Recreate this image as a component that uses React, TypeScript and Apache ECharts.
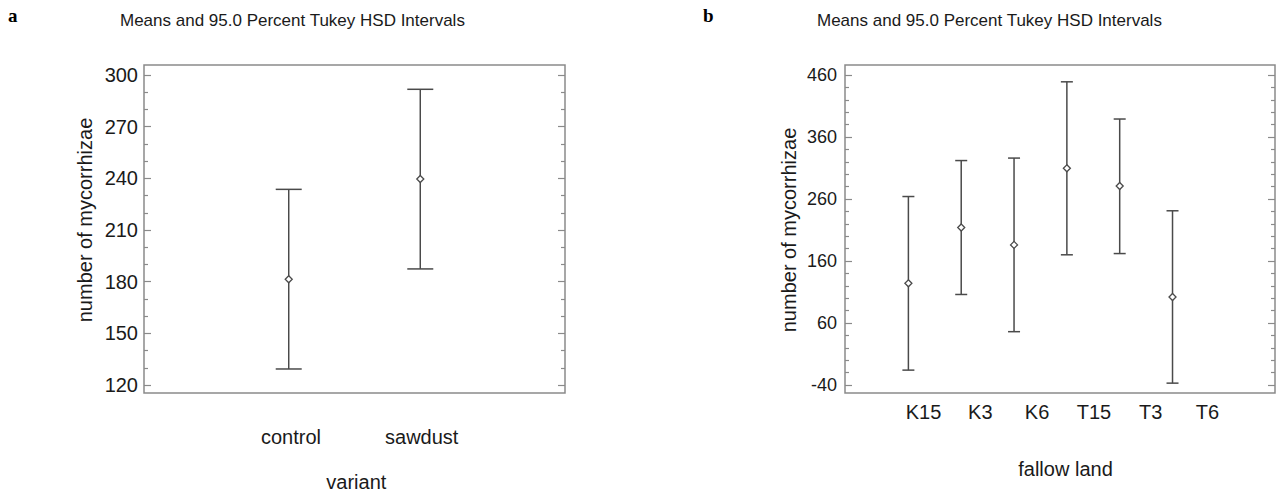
import React, { useEffect, useRef } from 'react';
import * as echarts from 'echarts';

// ---- data ----
const TITLE_TEXT = 'Means and 95.0 Percent Tukey HSD Intervals';
const Y_NAME = 'number of mycorrhizae';

const LEFT_X_NAME = 'variant';
const LEFT_CATS = ['control', 'sawdust'];
const LEFT_MEANS = [181.4, 239.6];
const LEFT_LOWER = [129.3, 187.4];
const LEFT_UPPER = [233.6, 291.7];
const LEFT_Y_TICKS = [120, 150, 180, 210, 240, 270, 300];

const RIGHT_X_NAME = 'fallow land';
const RIGHT_CATS = ['K15', 'K3', 'K6', 'T15', 'T3', 'T6'];
const RIGHT_MEANS = [124, 214, 186, 309.5, 281, 102];
const RIGHT_LOWER = [-16, 106, 46, 170, 172, -37];
const RIGHT_UPPER = [264, 322, 326, 449, 389, 241];
const RIGHT_Y_TICKS = [-40, 60, 160, 260, 360, 460];

// ---- style / layout ----
const W = 1281;
const H = 502;
const FONT = "'Liberation Sans', Arial, sans-serif";
const SERIF = "'Liberation Serif', 'Times New Roman', serif";
const TEXT = '#1a1a1a';
const FRAME = '#8a8a8a';
const BAR = '#4a4a4a';

const DATA_TOP = 75;
const DATA_H = 310;
const FRAME_TOP = 65;
const FRAME_BOTTOM = 393;

const LP = { left: 144, right: 565, xMin: -0.1, xMax: 3.1, labL: 291, labR: 421.7 };
const RP = { left: 845, right: 1275, xMin: -0.2, xMax: 7.94, labL: 923.5, labR: 1207.5 };

function makeRender(capHalf: number) {
  return (params: any, api: any) => {
    const x = api.value(0);
    const lo = api.coord([x, api.value(1)]);
    const hi = api.coord([x, api.value(2)]);
    const style = { stroke: BAR, lineWidth: 1.5, fill: 'none' };
    return {
      type: 'group',
      children: [
        { type: 'line', shape: { x1: lo[0], y1: lo[1], x2: hi[0], y2: hi[1] }, style },
        { type: 'line', shape: { x1: lo[0] - capHalf, y1: lo[1], x2: lo[0] + capHalf, y2: lo[1] }, style },
        { type: 'line', shape: { x1: hi[0] - capHalf, y1: hi[1], x2: hi[0] + capHalf, y2: hi[1] }, style },
      ],
    };
  };
}

function yAxes(ticks: number[], gridIndex: number, split: number, labelSize: number, labelMargin: number, nameGap: number, namePad: number[]) {
  const min = ticks[0];
  const max = ticks[ticks.length - 1];
  const interval = ticks[1] - ticks[0];
  const common = {
    type: 'value',
    gridIndex,
    min,
    max,
    interval,
    axisLine: { show: false, onZero: false },
    axisTick: { show: true, inside: true, length: 7, lineStyle: { color: FRAME, width: 1.2 } },
    minorTick: { show: true, splitNumber: split, length: 4, lineStyle: { color: FRAME, width: 1.2 } },
    splitLine: { show: false },
    minorSplitLine: { show: false },
  };
  return [
    {
      ...common,
      position: 'left',
      axisLabel: { show: true, fontSize: labelSize, margin: labelMargin, color: TEXT, fontFamily: FONT },
      name: Y_NAME,
      nameLocation: 'middle',
      nameRotate: 90,
      nameGap,
      nameTextStyle: { fontSize: 20, color: TEXT, fontFamily: FONT, padding: namePad },
    },
    {
      ...common,
      position: 'right',
      axisLabel: { show: false },
    },
  ];
}

function labelAxis(cats: string[], gridIndex: number, margin: number, name: string, nameGap: number) {
  return {
    type: 'category',
    gridIndex,
    data: cats,
    boundaryGap: false,
    axisLine: { show: false, onZero: false },
    axisTick: { show: false },
    axisLabel: { interval: 0, margin, fontSize: 20, color: TEXT, fontFamily: FONT },
    splitLine: { show: false },
    name,
    nameLocation: 'middle',
    nameGap,
    nameTextStyle: { fontSize: 20, color: TEXT, fontFamily: FONT },
  };
}

const option: any = {
  animation: false,
  backgroundColor: '#ffffff',
  title: [
    { text: 'a', left: 8, top: 6, padding: 0, textStyle: { fontFamily: SERIF, fontWeight: 'bold', fontSize: 19, color: '#000' } },
    { text: 'b', left: 703, top: 6, padding: 0, textStyle: { fontFamily: SERIF, fontWeight: 'bold', fontSize: 19, color: '#000' } },
    { text: TITLE_TEXT, left: 120, top: 12, padding: 0, textStyle: { fontFamily: FONT, fontWeight: 'normal', fontSize: 17, color: TEXT } },
    { text: TITLE_TEXT, left: 817, top: 12, padding: 0, textStyle: { fontFamily: FONT, fontWeight: 'normal', fontSize: 17, color: TEXT } },
  ],
  grid: [
    { left: LP.left, top: DATA_TOP, width: LP.right - LP.left, height: DATA_H },
    { left: LP.labL, top: DATA_TOP, width: LP.labR - LP.labL, height: DATA_H },
    { left: RP.left, top: DATA_TOP, width: RP.right - RP.left, height: DATA_H },
    { left: RP.labL, top: DATA_TOP, width: RP.labR - RP.labL, height: DATA_H },
  ],
  xAxis: [
    { type: 'value', gridIndex: 0, min: LP.xMin, max: LP.xMax, show: false, axisLine: { onZero: false } },
    labelAxis(LEFT_CATS, 1, 42, LEFT_X_NAME, 87),
    { type: 'value', gridIndex: 2, min: RP.xMin, max: RP.xMax, show: false, axisLine: { onZero: false } },
    labelAxis(RIGHT_CATS, 3, 17, RIGHT_X_NAME, 74),
  ],
  yAxis: [
    ...yAxes(LEFT_Y_TICKS, 0, 3, 20, 6, 49, [0, 0, 0, 20]),
    { type: 'value', gridIndex: 1, show: false, axisLine: { onZero: false } },
    ...yAxes(RIGHT_Y_TICKS, 2, 5, 18, 8, 46, [0, 0, 0, 0]),
    { type: 'value', gridIndex: 3, show: false, axisLine: { onZero: false } },
  ],
  graphic: [
    {
      type: 'rect',
      silent: true,
      shape: { x: LP.left, y: FRAME_TOP, width: LP.right - LP.left, height: FRAME_BOTTOM - FRAME_TOP },
      style: { fill: 'transparent', stroke: FRAME, lineWidth: 1.5 },
    },
    {
      type: 'rect',
      silent: true,
      shape: { x: RP.left, y: FRAME_TOP, width: RP.right - RP.left, height: FRAME_BOTTOM - FRAME_TOP },
      style: { fill: 'transparent', stroke: FRAME, lineWidth: 1.5 },
    },
  ],
  series: [
    {
      type: 'custom',
      xAxisIndex: 0,
      yAxisIndex: 0,
      data: LEFT_CATS.map((_, i) => [i + 1, LEFT_LOWER[i], LEFT_UPPER[i]]),
      encode: { x: 0, y: [1, 2] },
      renderItem: makeRender(13),
      z: 2,
    },
    {
      type: 'scatter',
      xAxisIndex: 0,
      yAxisIndex: 0,
      data: LEFT_CATS.map((_, i) => [i + 1, LEFT_MEANS[i]]),
      symbol: 'diamond',
      symbolSize: 7,
      itemStyle: { color: '#ffffff', borderColor: BAR, borderWidth: 1.3, opacity: 1 },
      z: 3,
    },
    {
      type: 'custom',
      xAxisIndex: 2,
      yAxisIndex: 3,
      data: RIGHT_CATS.map((_, i) => [i + 1, RIGHT_LOWER[i], RIGHT_UPPER[i]]),
      encode: { x: 0, y: [1, 2] },
      renderItem: makeRender(6),
      z: 2,
    },
    {
      type: 'scatter',
      xAxisIndex: 2,
      yAxisIndex: 3,
      data: RIGHT_CATS.map((_, i) => [i + 1, RIGHT_MEANS[i]]),
      symbol: 'diamond',
      symbolSize: 7,
      itemStyle: { color: '#ffffff', borderColor: BAR, borderWidth: 1.3, opacity: 1 },
      z: 3,
    },
  ],
};

export default function App() {
  const ref = useRef<HTMLDivElement>(null);
  useEffect(() => {
    if (!ref.current) return;
    const chart = echarts.init(ref.current, null, { renderer: 'svg' });
    chart.setOption(option);
    return () => {
      chart.dispose();
    };
  }, []);
  return (
    <div
      ref={ref}
      style={{ position: 'fixed', left: 0, top: 0, width: W, height: H, background: '#ffffff' }}
    />
  );
}
